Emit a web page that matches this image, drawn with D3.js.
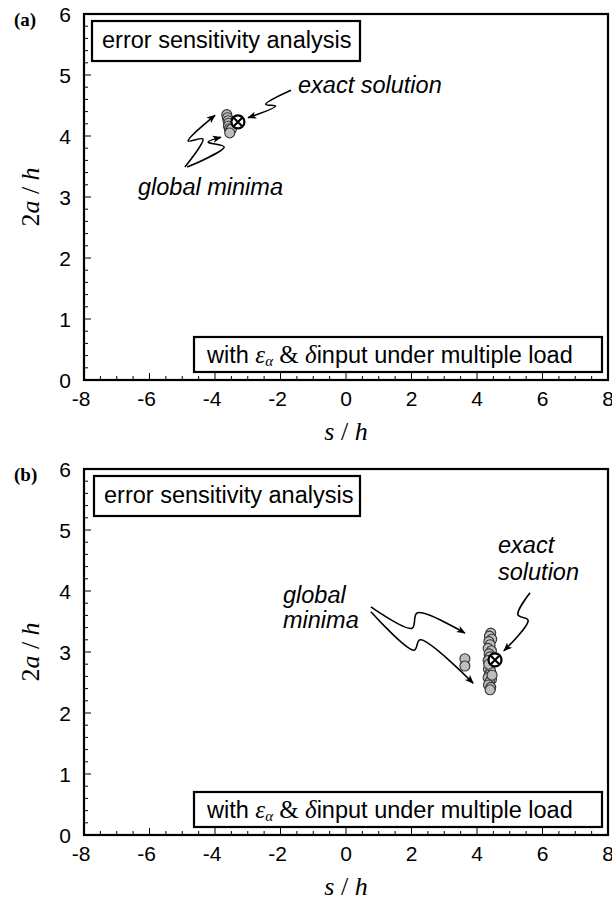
<!DOCTYPE html>
<html>
<head>
<meta charset="utf-8">
<script src="https://cdn.jsdelivr.net/npm/d3@7"></script>
<style>
  body { margin: 0; background: #fff; }
  svg { display: block; }
</style>
</head>
<body>
<script>
// axis ticks
const xTicks = [-8, -6, -4, -2, 0, 2, 4, 6, 8];
const yTicks = [0, 1, 2, 3, 4, 5, 6];

// panel (a) : s/h , 2a/h
const minimaA = [
  [-3.64, 4.35], [-3.62, 4.30], [-3.60, 4.25], [-3.58, 4.21], [-3.59, 4.16],
  [-3.56, 4.12], [-3.54, 4.08], [-3.50, 4.11], [-3.55, 4.05]
];
const exactA = [-3.30, 4.23];

// panel (b)
const minimaB = [
  [4.42, 3.31], [4.38, 3.26], [4.45, 3.21], [4.36, 3.17], [4.40, 3.12],
  [4.34, 3.06], [4.44, 3.02], [4.37, 2.97], [4.40, 2.92], [4.34, 2.86],
  [4.46, 2.82], [4.38, 2.78], [4.35, 2.72], [4.42, 2.68], [4.37, 2.62],
  [4.34, 2.58], [4.44, 2.55], [4.38, 2.50], [4.35, 2.46], [4.42, 2.42],
  [4.40, 2.38], [4.46, 2.62], [4.36, 2.80],
  [3.63, 2.89], [3.63, 2.77]
];
const exactB = [4.55, 2.87];

// lightning arrows, in data units (start, bend, bend, tip)
const arrowsA = [
  [[-1.68, 4.75], [-2.45, 4.52], [-2.15, 4.49], [-2.99, 4.30]],
  [[-4.92, 3.49], [-4.37, 3.95], [-4.82, 3.92], [-4.00, 4.34]],
  [[-4.85, 3.49], [-3.72, 3.82], [-4.21, 3.90], [-3.82, 3.98]]
];
const arrowsB = [
  [[0.76, 3.74], [2.02, 3.39], [2.17, 3.64], [3.63, 3.31]],
  [[0.76, 3.66], [2.08, 3.03], [2.26, 3.20], [3.88, 2.49]],
  [[5.62, 3.97], [5.25, 3.61], [5.56, 3.52], [4.82, 3.02]]
];

const W = 612, H = 905;
const svg = d3.select("body").append("svg")
  .attr("width", W).attr("height", H)
  .attr("viewBox", [0, 0, W, H]);

svg.append("defs").append("marker")
  .attr("id", "head")
  .attr("viewBox", "0 0 10 10")
  .attr("refX", 9).attr("refY", 5)
  .attr("markerWidth", 9).attr("markerHeight", 9)
  .attr("markerUnits", "userSpaceOnUse")
  .attr("orient", "auto")
  .append("path").attr("d", "M0,1 L10,5 L0,9 L2.5,5 Z").attr("fill", "#000");

const sans = "'Liberation Sans', Arial, Helvetica, sans-serif";
const serif = "'Liberation Serif', 'Times New Roman', Times, serif";

function panel(cfg) {
  const x = d3.scaleLinear().domain([-8, 8]).range([84, 608]);
  const y = d3.scaleLinear().domain([0, 6]).range([cfg.bottom, cfg.top]);
  const g = svg.append("g");

  // minor + major ticks, inward
  const xMinor = d3.range(-8, 8.01, 0.5);
  const yMinor = d3.range(0, 6.01, 0.2);
  g.append("g").selectAll("line").data(xMinor).join("line")
    .attr("x1", d => x(d)).attr("x2", d => x(d))
    .attr("y1", y(0)).attr("y2", d => y(0) - (Math.abs(d % 2) < 1e-6 ? 7 : 4))
    .attr("stroke", "#000").attr("stroke-width", 1);
  g.append("g").selectAll("line").data(yMinor).join("line")
    .attr("y1", d => y(d)).attr("y2", d => y(d))
    .attr("x1", x(-8)).attr("x2", d => x(-8) + (Math.abs(d - Math.round(d)) < 1e-6 ? 7 : 4))
    .attr("stroke", "#000").attr("stroke-width", 1);

  // frame
  g.append("rect")
    .attr("x", x(-8)).attr("y", y(6))
    .attr("width", x(8) - x(-8)).attr("height", y(0) - y(6))
    .attr("fill", "none").attr("stroke", "#000").attr("stroke-width", 2.2);

  // tick labels
  g.append("g").selectAll("text").data(xTicks).join("text")
    .attr("x", d => x(d) + (d < 0 ? -3 : 0)).attr("y", y(0) + 26)
    .attr("text-anchor", "middle")
    .attr("font-family", sans).attr("font-size", 21)
    .text(d => d);
  g.append("g").selectAll("text").data(yTicks).join("text")
    .attr("x", x(-8) - 13).attr("y", d => y(d) + 8)
    .attr("text-anchor", "end")
    .attr("font-family", sans).attr("font-size", 21)
    .text(d => d);

  // panel letter
  g.append("text").attr("x", 14).attr("y", y(6) + 12)
    .attr("font-family", serif).attr("font-weight", "bold").attr("font-size", 19)
    .text(cfg.letter);

  // axis titles
  const xt = g.append("text")
    .attr("x", x(0)).attr("y", y(0) + 60)
    .attr("text-anchor", "middle")
    .attr("font-family", serif).attr("font-size", 26);
  xt.append("tspan").attr("font-style", "italic").text("s");
  xt.append("tspan").text(" / ");
  xt.append("tspan").attr("font-style", "italic").text("h");

  const yt = g.append("text")
    .attr("transform", `translate(39,${y(3)}) rotate(-90)`)
    .attr("text-anchor", "middle")
    .attr("font-family", serif).attr("font-size", 26);
  yt.append("tspan").text("2");
  yt.append("tspan").attr("font-style", "italic").text("a");
  yt.append("tspan").text(" / ");
  yt.append("tspan").attr("font-style", "italic").text("h");

  // top-left box
  g.append("rect")
    .attr("x", cfg.boxX).attr("y", y(6) + 7)
    .attr("width", 360 - cfg.boxX).attr("height", 40)
    .attr("fill", "#fff").attr("stroke", "#000").attr("stroke-width", 2.2);
  g.append("text")
    .attr("x", cfg.boxX + 10).attr("y", y(6) + 34)
    .attr("font-family", sans).attr("font-size", 23.5)
    .text("error sensitivity analysis");

  // bottom-right box
  g.append("rect")
    .attr("x", 194).attr("y", y(0) - 43)
    .attr("width", 408).attr("height", 35)
    .attr("fill", "#fff").attr("stroke", "#000").attr("stroke-width", 2.2);
  const bt = g.append("text")
    .attr("x", 207).attr("y", y(0) - 17)
    .attr("font-family", sans).attr("font-size", 23.5);
  bt.append("tspan").text("with ");
  bt.append("tspan").attr("font-family", serif).attr("font-style", "italic").attr("font-size", 25).text("ε");
  bt.append("tspan").attr("font-family", serif).attr("font-style", "italic").attr("font-size", 15).attr("dy", 3).text("α");
  bt.append("tspan").attr("font-family", serif).attr("font-size", 25).attr("dy", -3).text(" & ");
  bt.append("tspan").attr("font-family", serif).attr("font-style", "italic").attr("font-size", 25).text("δ");
  bt.append("tspan").text("input under multiple load");

  // lightning arrows
  const line = d3.line().x(d => x(d[0])).y(d => y(d[1])).curve(d3.curveCatmullRom.alpha(0.5));
  g.append("g").selectAll("path").data(cfg.arrows).join("path")
    .attr("d", line)
    .attr("fill", "none").attr("stroke", "#000").attr("stroke-width", 1.6)
    .attr("marker-end", "url(#head)");

  // global minima points
  g.append("g").selectAll("circle").data(cfg.minima).join("circle")
    .attr("cx", d => x(d[0])).attr("cy", d => y(d[1])).attr("r", 5)
    .attr("fill", "#bdbdbd").attr("stroke", "#333").attr("stroke-width", 1.1);

  // exact solution marker
  const ex = g.append("g").attr("transform", `translate(${x(cfg.exact[0])},${y(cfg.exact[1])})`);
  ex.append("circle").attr("r", 6.5).attr("fill", "#fff").attr("stroke", "#000").attr("stroke-width", 2.2);
  ex.append("path").attr("d", "M-4,-4L4,4M-4,4L4,-4").attr("stroke", "#000").attr("stroke-width", 2.2);

  // annotation labels
  g.append("g").selectAll("text").data(cfg.labels).join("text")
    .attr("x", d => d.x).attr("y", d => d.y)
    .attr("text-anchor", "start")
    .attr("font-family", sans).attr("font-style", "italic").attr("font-size", 23.5)
    .text(d => d.t);
}

panel({
  letter: "(a)", top: 14, bottom: 380, boxX: 92,
  minima: minimaA, exact: exactA, arrows: arrowsA,
  labels: [
    { t: "exact solution", x: 298, y: 93 },
    { t: "global minima", x: 138, y: 195 }
  ]
});

panel({
  letter: "(b)", top: 469, bottom: 835, boxX: 94,
  minima: minimaB, exact: exactB, arrows: arrowsB,
  labels: [
    { t: "global", x: 283, y: 603 },
    { t: "minima", x: 283, y: 628 },
    { t: "exact", x: 498, y: 553 },
    { t: "solution", x: 498, y: 580 }
  ]
});
</script>
</body>
</html>
